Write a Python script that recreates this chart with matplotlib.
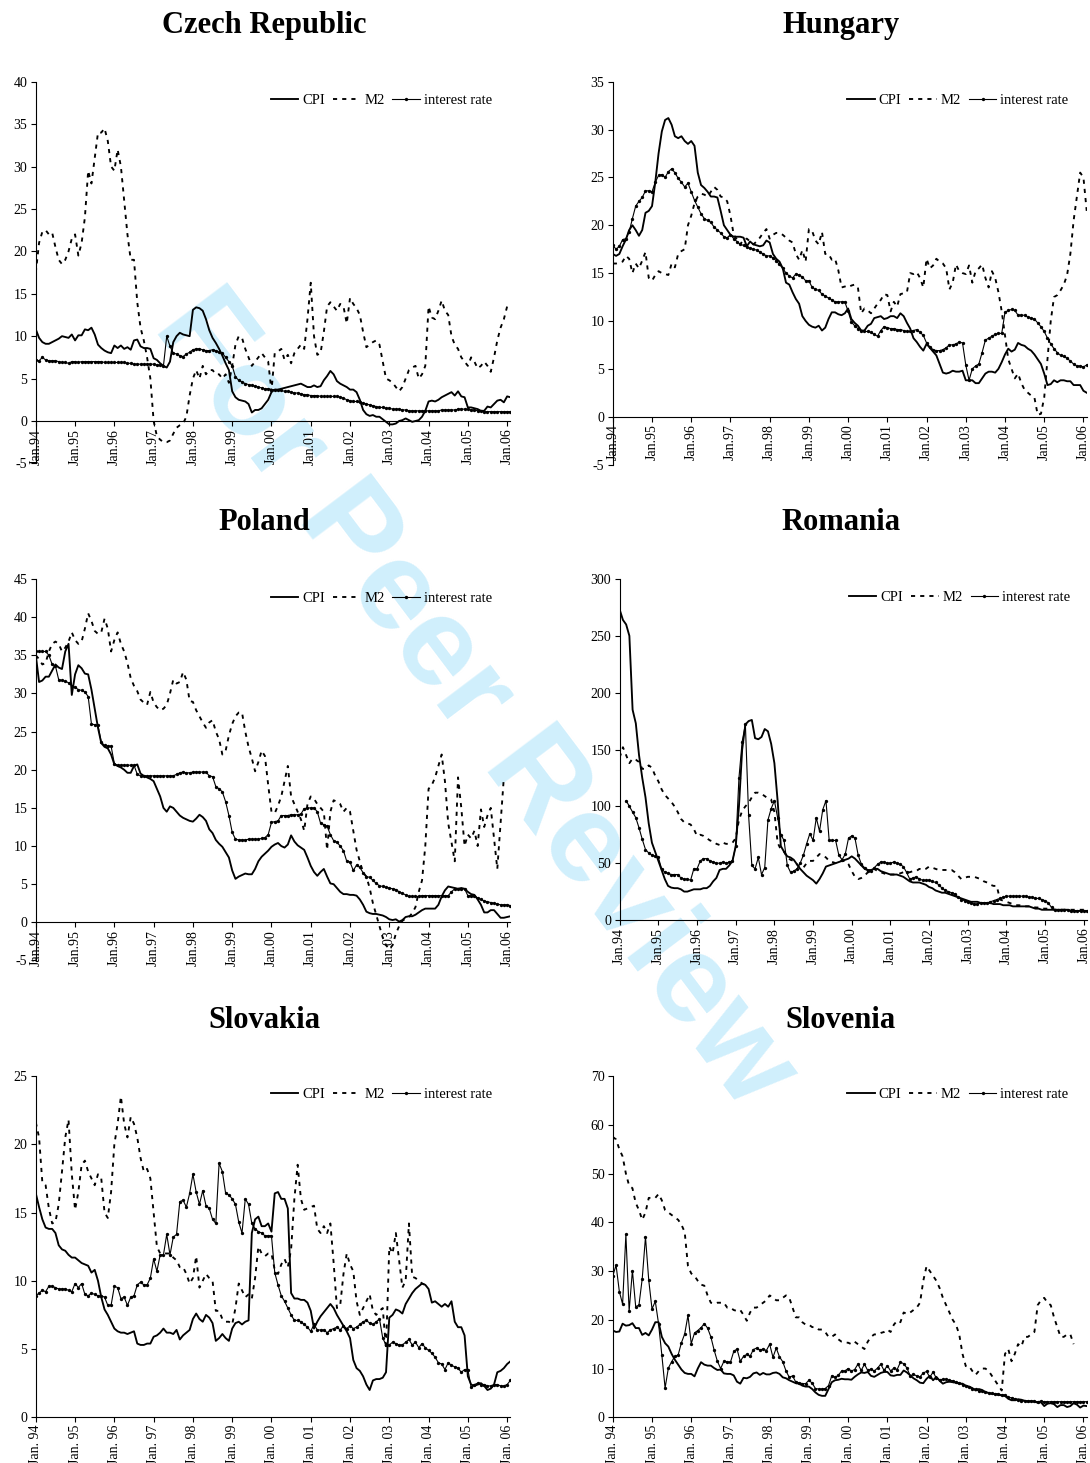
import numpy as np
import matplotlib
matplotlib.use("Agg")
import matplotlib.pyplot as plt
from matplotlib.lines import Line2D

plt.rcParams['font.family'] = ['Liberation Serif', 'DejaVu Serif']
plt.rcParams['axes.unicode_minus'] = False

nan = np.nan

# ---------------- Czech Republic ----------------
cz_cpi = [10.8, 9.8, 9.3, 9.1, 9.1, 9.3, 9.5, 9.7, 10.0, 9.9, 9.8, 10.2,
          9.5, 10.1, 10.1, 10.8, 10.7, 11.0, 10.2, 9.0, 8.6, 8.3, 8.1, 8.0,
          8.9, 8.6, 8.9, 8.5, 8.7, 8.4, 9.5, 9.6, 8.8, 8.6, 8.6, 8.5,
          7.4, 7.2, 6.8, 6.5, 6.3, 7.0, 9.3, 10.0, 10.4, 10.2, 10.1, 10.0,
          13.1, 13.4, 13.3, 13.0, 12.0, 10.7, 9.8, 9.2, 8.5, 7.7, 6.8, 6.0,
          3.5, 2.8, 2.5, 2.4, 2.3, 2.0, 1.0, 1.3, 1.3, 1.5, 2.0, 2.5,
          3.4, 3.7, 3.7, 3.8, 3.9, 4.0, 4.1, 4.2, 4.3, 4.4, 4.2, 4.0,
          4.0, 4.2, 4.0, 4.1, 4.8, 5.3, 5.9, 5.5, 4.7, 4.4, 4.2, 4.0,
          3.7, 3.7, 3.4, 2.5, 1.3, 0.8, 0.6, 0.7, 0.5, 0.5, 0.2, -0.1,
          -0.4, -0.4, -0.3, 0.0, 0.1, 0.3, 0.1, -0.1, 0.0, 0.1, 0.5, 1.2,
          2.3, 2.4, 2.3, 2.5, 2.8, 3.0, 3.2, 3.4, 3.0, 3.5, 2.9, 2.8,
          1.6, 1.6, 1.5, 1.4, 1.2, 1.2, 1.7, 1.6, 2.0, 2.4, 2.5, 2.2,
          2.9, 2.8]
cz_m2 = [17.5, 21.0, 22.3, 22.5, 22.0, 22.2, 20.5, 19.0, 18.5, 19.0, 20.0, 21.5,
         22.0, 19.5, 21.0, 24.0, 29.5, 28.0, 31.0, 34.0, 34.0, 34.5, 33.0, 30.0,
         29.5, 32.0, 30.0, 26.0, 22.0, 19.0, 19.0, 14.0, 11.0, 9.5, 7.5, 5.0,
         0.0, -1.8, -2.2, -2.5, -2.5, -2.3, -1.5, -0.8, -0.5, -0.3, 0.5, 3.0,
         5.0, 6.0, 5.0, 6.5, 5.5, 6.0, 6.0, 5.5, 5.5, 5.0, 5.5, 4.5,
         6.5, 9.0, 10.0, 9.8, 8.5, 7.5, 6.5, 7.0, 7.5, 8.0, 7.5, 7.0,
         3.5, 8.0, 8.2, 8.5, 7.2, 7.8, 6.8, 8.0, 8.5, 9.0, 8.5, 12.0,
         16.3, 10.0, 7.8, 8.0, 10.5, 13.5, 14.0, 13.5, 13.0, 13.8, 13.5, 11.5,
         14.5, 13.8, 13.3, 12.5, 10.5, 8.7, 9.0, 9.3, 9.5, 9.0, 7.0, 5.0,
         4.8, 4.5, 4.0, 3.5, 4.0, 5.0, 6.0, 6.3, 6.5, 5.0, 5.5, 6.5,
         13.5, 12.2, 12.0, 13.0, 14.2, 13.0, 12.5, 10.0, 9.0, 8.5, 7.5, 7.0,
         6.5, 7.5, 7.0, 6.2, 6.5, 7.0, 6.5, 5.8, 7.5, 9.5, 11.0, 12.0,
         13.5]
cz_ir = [7.2, 7.1, 7.5, 7.2, 7.1, 7.1, 7.1, 7.0, 6.9, 6.9, 6.8, 7.0,
         7.0, 6.9, 7.0, 7.0, 7.0, 7.0, 7.0, 7.0, 7.0, 6.9, 6.9, 6.9,
         6.9, 6.9, 6.9, 6.9, 6.8, 6.8, 6.7, 6.7, 6.7, 6.7, 6.7, 6.7,
         6.7, 6.6, 6.6, 6.5, 10.0, 8.8, 8.0, 7.9, 7.7, 7.6, 7.9, 8.1,
         8.4, 8.5, 8.5, 8.4, 8.3, 8.3, 8.4, 8.3, 8.1, 8.0, 7.5, 7.0,
         6.5, 5.2, 4.8, 4.6, 4.4, 4.3, 4.2, 4.1, 4.0, 3.9, 3.8, 3.8,
         3.7, 3.7, 3.6, 3.6, 3.5, 3.5, 3.4, 3.3, 3.3, 3.2, 3.1, 3.1,
         3.0, 3.0, 3.0, 2.9, 2.9, 2.9, 2.9, 2.9, 2.9, 2.8, 2.7, 2.5,
         2.4, 2.3, 2.3, 2.2, 2.1, 2.0, 1.9, 1.8, 1.7, 1.6, 1.6, 1.5,
         1.5, 1.4, 1.4, 1.4, 1.3, 1.3, 1.2, 1.2, 1.2, 1.2, 1.2, 1.2,
         1.2, 1.2, 1.2, 1.2, 1.3, 1.3, 1.3, 1.3, 1.3, 1.4, 1.4, 1.4,
         1.4, 1.3, 1.3, 1.2, 1.2, 1.1, 1.1, 1.1, 1.1, 1.1, 1.1, 1.1,
         1.1, 1.1]

# ---------------- Hungary ----------------
hu_cpi = [17.0, 16.8, 17.0, 17.8, 18.5, 19.5, 20.0, 19.5, 18.9, 19.5, 21.3, 21.5,
          22.0, 24.5, 27.5, 29.8, 31.0, 31.2, 30.5, 29.3, 29.1, 29.3, 28.8, 28.5,
          28.8, 28.3, 25.5, 24.2, 23.9, 23.5, 23.0, 23.0, 22.9, 21.5, 20.0, 19.5,
          19.0, 18.8, 18.8, 18.8, 18.7, 17.8, 18.3, 18.0, 17.9, 17.8, 17.9, 18.4,
          18.2, 17.0, 16.5, 16.2, 15.5, 14.0, 13.8, 13.0, 12.3, 11.8, 10.5, 10.0,
          9.6, 9.4, 9.3, 9.5, 9.0, 9.3, 10.2, 10.9, 10.9, 10.7, 10.6, 10.8,
          11.3, 10.2, 9.8, 9.5, 9.0, 9.0, 9.5, 9.7, 10.3, 10.4, 10.5, 10.2,
          10.3, 10.5, 10.5, 10.3, 10.8, 10.5, 9.8, 9.2, 8.2, 7.8, 7.3, 6.9,
          7.6, 7.2, 6.8, 6.4, 5.5, 4.6, 4.5, 4.6, 4.8, 4.7, 4.7, 4.8,
          3.8, 3.8, 3.8, 3.5, 3.5, 4.0, 4.5, 4.7, 4.7, 4.6, 5.0, 5.7,
          6.5, 7.1, 6.8, 7.0, 7.7, 7.5, 7.4, 7.1, 6.9, 6.5, 6.0, 5.5,
          4.5, 3.3, 3.4, 3.8, 3.6, 3.8, 3.8, 3.7, 3.7, 3.3, 3.3, 3.3,
          2.7, 2.5]
hu_m2 = [16.0, 16.0, 16.1, 16.2, 16.8, 16.5, 15.0, 16.0, 15.5, 16.3, 17.2, 14.5,
         14.2, 14.8, 15.2, 15.0, 14.9, 14.8, 16.0, 15.6, 17.0, 17.3, 17.5, 20.0,
         21.0, 22.3, 23.0, 23.3, 23.2, 23.0, 23.5, 24.0, 23.7, 23.0, 22.9, 22.5,
         21.0, 19.0, 18.5, 18.0, 18.5, 18.6, 18.3, 18.0, 18.3, 18.7, 19.2, 19.6,
         18.6, 19.0, 19.2, 19.2, 19.0, 18.7, 18.4, 18.2, 17.0, 16.4, 17.4, 16.2,
         19.6, 19.4, 18.4, 18.0, 19.3, 17.0, 17.0, 16.4, 16.5, 15.3, 13.5, 13.6,
         13.5, 13.7, 13.8, 13.5, 10.8, 11.3, 11.1, 10.8, 11.3, 11.8, 12.2, 12.8,
         12.7, 11.0, 12.0, 11.5, 12.8, 12.9, 13.0, 15.0, 14.9, 15.1, 14.5, 13.5,
         16.5, 15.5, 15.8, 16.5, 16.2, 16.0, 15.5, 13.3, 14.0, 15.9, 15.2, 15.0,
         14.9, 15.8, 14.0, 15.2, 15.5, 15.9, 14.5, 13.5, 15.2, 14.5, 13.0, 11.0,
         8.5, 6.0, 5.0, 4.0, 4.5, 3.5, 2.8, 2.5, 2.2, 2.0, 0.2, 0.3,
         2.0, 6.0, 10.0, 12.5, 12.7, 13.2, 13.8, 14.8, 17.0, 20.5, 23.0, 25.5,
         25.0, 21.5]
hu_ir = [17.9, 17.5, 17.8, 18.5, 18.6, 19.3, 20.7, 22.0, 22.5, 22.9, 23.6, 23.6,
         23.5, 24.5, 25.2, 25.3, 25.0, 25.6, 25.9, 25.5, 24.9, 24.5, 24.0, 24.4,
         23.5, 22.6, 21.9, 21.2, 20.7, 20.5, 20.3, 19.8, 19.5, 19.2, 18.8, 18.7,
         19.0, 18.6, 18.3, 18.0, 17.9, 17.7, 17.6, 17.5, 17.4, 17.2, 17.0, 16.8,
         16.8, 16.6, 16.3, 15.9, 15.5, 15.0, 14.7, 14.5, 14.9, 14.8, 14.6, 14.2,
         14.2, 13.5, 13.3, 13.2, 12.8, 12.6, 12.4, 12.2, 12.0, 12.0, 12.0, 12.0,
         11.0, 9.9, 9.5, 9.2, 9.0, 8.9, 8.9, 8.8, 8.6, 8.4, 9.0, 9.4,
         9.3, 9.2, 9.2, 9.1, 9.1, 9.0, 8.9, 8.9, 9.0, 9.1, 8.8, 8.5,
         7.7, 7.3, 7.0, 6.9, 6.9, 7.0, 7.2, 7.5, 7.5, 7.6, 7.8, 7.7,
         5.4, 3.8, 5.0, 5.3, 5.5, 6.7, 8.0, 8.2, 8.4, 8.6, 8.7, 8.7,
         10.9, 11.1, 11.2, 11.1, 10.6, 10.6, 10.6, 10.4, 10.3, 10.2, 9.8, 9.4,
         8.9, 8.2, 7.6, 7.1, 6.7, 6.4, 6.3, 6.1, 5.8, 5.5, 5.3, 5.3,
         5.2, 5.4]

# ---------------- Poland ----------------
pl_cpi = [35.0, 31.5, 31.7, 32.2, 32.2, 33.0, 33.8, 33.4, 33.2, 35.5, 36.5, 29.8,
          32.5, 33.7, 33.3, 32.6, 32.5, 30.5, 28.0, 25.5, 23.5, 23.0, 22.8, 22.0,
          20.7, 20.5, 20.3, 20.0, 19.6, 19.6, 20.5, 20.7, 19.5, 19.2, 19.0, 18.8,
          18.5, 17.5, 16.5, 15.0, 14.5, 15.2, 15.0, 14.5, 14.0, 13.7, 13.5, 13.3,
          13.2, 13.6, 14.1, 13.8, 13.3, 12.2, 11.7, 10.8, 10.3, 9.9, 9.2, 8.5,
          6.8, 5.7, 6.0, 6.2, 6.4, 6.3, 6.3, 7.0, 8.0, 8.6, 9.0, 9.4,
          9.9, 10.2, 10.4, 10.0, 9.8, 10.2, 11.4, 10.6, 10.1, 9.8, 9.5, 8.5,
          7.4, 6.6, 6.1, 6.6, 7.0, 6.0, 5.1, 5.0, 4.5, 4.0, 3.7, 3.7,
          3.6, 3.6, 3.5, 3.0, 2.3, 1.4, 1.2, 1.1, 1.1, 1.0, 0.9, 0.7,
          0.4, 0.3, 0.4, 0.1, 0.3, 0.7, 0.8, 0.8, 1.0, 1.3, 1.6, 1.8,
          1.8, 1.8, 1.8, 2.3, 3.4, 4.2, 4.7, 4.6, 4.5, 4.4, 4.5, 4.4,
          4.0, 3.7, 3.6, 3.0, 2.3, 1.3, 1.3, 1.6, 1.6, 1.1, 0.6, 0.6,
          0.7, 0.8]
pl_m2 = [35.0, 34.5, 33.8, 34.0, 35.5, 36.5, 36.8, 36.5, 35.5, 36.0, 36.8, 38.0,
         37.0, 36.5, 36.8, 38.5, 40.5, 39.5, 38.2, 37.8, 38.0, 39.8, 38.5, 35.5,
         37.0, 38.0, 36.5, 35.5, 34.0, 32.0, 31.0, 30.3, 29.2, 28.8, 28.5, 30.2,
         28.8, 28.2, 27.8, 28.0, 28.5, 30.0, 31.8, 31.3, 31.5, 32.8, 31.8, 29.0,
         28.9, 27.8, 27.0, 26.2, 25.5, 26.2, 26.5, 25.0, 24.0, 22.0, 22.5, 24.5,
         26.0, 27.0, 27.5, 27.5, 25.0, 23.0, 21.5, 19.8, 21.0, 22.5, 21.8, 18.0,
         14.5, 14.3, 15.3, 16.5, 18.5, 20.5, 16.5, 15.5, 14.5, 13.5, 12.0, 15.5,
         16.5, 16.2, 15.5, 15.0, 14.5, 9.5, 14.5, 16.0, 15.8, 15.5, 14.5, 15.0,
         14.5, 12.0, 9.5, 8.0, 6.5, 6.0, 4.5, 2.5, 1.0, -0.5, -2.0, -3.0,
         -3.5, -3.0, -1.5, -0.5, 0.2, 0.5, 0.7, 1.2, 2.0, 4.0, 5.5, 10.0,
         17.5, 18.0, 19.0, 20.5, 22.0, 18.5, 13.0, 10.5, 8.0, 19.0, 15.0, 10.0,
         11.5, 11.0, 12.0, 10.0, 14.8, 12.5, 14.0, 15.0, 11.0, 7.0, 13.0, 19.0]
pl_ir = [35.5, 35.5, 35.5, 35.5, 35.0, 33.8, 33.6, 31.8, 31.7, 31.6, 31.4, 31.0,
         30.8, 30.5, 30.4, 30.2, 29.6, 26.0, 25.9, 25.8, 23.6, 23.2, 23.1, 23.1,
         20.8, 20.6, 20.6, 20.6, 20.6, 20.6, 20.6, 19.4, 19.2, 19.2, 19.2, 19.2,
         19.2, 19.2, 19.2, 19.2, 19.2, 19.2, 19.2, 19.4, 19.6, 19.7, 19.6, 19.6,
         19.7, 19.7, 19.7, 19.7, 19.7, 19.2, 19.1, 17.8, 17.5, 17.1, 15.8, 14.0,
         11.8, 10.9, 10.8, 10.8, 10.8, 10.9, 10.9, 10.9, 10.9, 11.0, 11.1, 11.5,
         13.1, 13.2, 13.3, 14.0, 14.0, 14.0, 14.1, 14.1, 14.1, 14.2, 14.9, 15.0,
         15.0, 15.0, 14.5, 13.0, 12.8, 12.6, 11.5, 10.7, 10.5, 10.0, 9.4, 8.0,
         7.9, 6.8, 7.5, 7.2, 6.5, 6.0, 5.9, 5.5, 5.1, 4.8, 4.7, 4.6,
         4.5, 4.4, 4.3, 4.0, 3.8, 3.6, 3.4, 3.4, 3.4, 3.4, 3.5, 3.5,
         3.5, 3.5, 3.5, 3.5, 3.5, 3.5, 3.5, 4.0, 4.4, 4.4, 4.4, 4.4,
         3.5, 3.5, 3.5, 3.2, 3.0, 2.8, 2.7, 2.6, 2.5, 2.4, 2.3, 2.3,
         2.3, 2.2]

# ---------------- Romania ----------------
ro_cpi = [273, 264, 260, 250, 185, 173, 145, 125, 108, 85, 68, 60,
          52, 44, 36, 30, 28.5, 28, 28, 27, 25, 25, 26, 27,
          27, 27, 28, 28, 30, 34, 37, 44, 45, 45, 48, 52,
          65, 100, 150, 172, 175, 176, 160, 159, 161, 168, 166, 155,
          138, 105, 65, 60, 56, 55, 53, 49, 45, 42, 39, 37,
          35, 32, 36, 41, 47, 48, 49, 50, 51, 52, 53, 54,
          56, 54, 51, 48, 45, 44, 44, 45, 45, 43, 42, 41,
          40, 40, 40, 39, 38, 36, 34, 33, 33, 33, 32, 31,
          29, 28, 26, 25, 24, 24, 23, 22, 21, 20, 19, 18,
          17, 16, 16, 16, 15, 15, 15, 15, 14, 14, 14, 13,
          13, 13, 12, 12, 12, 12, 12, 12, 11, 10, 10, 9,
          9, 9, 9, 9, 9, 9, 9, 9, 8, 8, 8, 8,
          8, 8]
ro_m2 = [143, 152, 145, 138, 142, 141, 139, 133, 133, 136, 134, 127,
         122, 115, 110, 107, 104, 100, 95, 89, 86, 85, 84, 80,
         74, 75, 74, 72, 70, 69, 67, 66, 68, 67, 67, 68,
         72, 88, 96, 100, 103, 108, 112, 112, 111, 109, 107, 106,
         95, 68, 62, 60, 55, 53, 52, 49, 46, 46, 50, 52,
         52, 55, 58, 57, 55, 52, 51, 50, 52, 52, 52, 49,
         43, 38, 36, 37, 39, 42, 44, 45, 43, 42, 41, 40,
         40, 40, 40, 41, 42, 42, 42, 43, 43, 45, 44, 45,
         47, 46, 45, 44, 44, 44, 44, 44, 42, 39, 36, 37,
         38, 38, 38, 37, 36, 34, 33, 31, 30, 30, 18, 17,
         16, 15, 14, 13, 13, 12, 12, 12, 12, 11, 11, 10,
         10, 10, 10, 9, 9, 9, 9, 9, 9, 9, 9, 9,
         9, 9]
ro_ir = [nan, nan, 105, 100, 95, 90, 81, 71, 62, 59, 57, 56,
         55, 45, 42, 41, 40, 40, 40, 37, 36, 36, 35, 45,
         45, 52, 54, 54, 52, 51, 50, 50, 51, 50, 51, 52,
         65, 125, 157, 172, 92, 48, 45, 55, 40, 46, 88, 98,
         105, 90, 75, 70, 48, 42, 43, 45, 50, 57, 67, 76,
         70, 90, 78, 97, 105, 70, 70, 70, 57, 53, 58, 72,
         74, 72, 57, 49, 46, 43, 43, 46, 49, 51, 51, 50,
         50, 51, 50, 49, 47, 42, 36, 37, 38, 36, 35, 35,
         35, 34, 33, 31, 28, 26, 25, 24, 23, 20, 18, 17,
         16, 15, 14, 14, 15, 15, 15, 16, 17, 18, 19, 20,
         21, 21, 21, 21, 21, 21, 21, 20, 20, 19, 19, 18,
         17, 15, 11, 9, 9, 9, 9, 9, 8, 8, 8, 8,
         8, 8]

# ---------------- Slovakia ----------------
sk_cpi = [16.4, 15.4, 14.5, 13.9, 13.8, 13.8, 13.5, 12.6, 12.3, 12.2, 11.9, 11.7,
          11.7, 11.5, 11.3, 11.2, 11.1, 10.6, 10.8, 10.0, 8.8, 7.9, 7.5, 7.0,
          6.5, 6.3, 6.2, 6.2, 6.1, 6.2, 6.3, 5.4, 5.3, 5.3, 5.4, 5.4,
          5.9, 6.0, 6.2, 6.5, 6.2, 6.2, 6.1, 6.4, 5.7, 6.0, 6.2, 6.4,
          7.2, 7.6, 7.2, 7.0, 7.5, 7.3, 6.9, 5.6, 5.8, 6.1, 5.8, 5.6,
          6.5, 6.9, 7.0, 6.8, 7.0, 7.1, 13.5, 14.5, 14.7, 14.0, 14.0, 14.2,
          13.6, 16.4, 16.5, 16.0, 16.0, 15.3, 9.1, 8.7, 8.7, 8.6, 8.6, 8.4,
          7.8, 6.5, 7.0, 7.4, 7.7, 8.0, 8.3, 8.0, 7.5, 7.1, 6.7, 6.3,
          5.8, 4.2, 3.6, 3.4, 3.0, 2.4, 2.0, 2.7, 2.8, 2.8, 2.9, 3.3,
          7.3, 7.5, 7.9, 7.8, 7.6, 8.3, 8.7, 9.1, 9.4, 9.6, 9.8, 9.7,
          9.4, 8.4, 8.5, 8.3, 8.1, 8.3, 8.1, 8.5, 7.0, 6.6, 6.6, 6.0,
          3.0, 2.4, 2.3, 2.4, 2.5, 2.3, 2.0, 2.1, 2.4, 3.3, 3.4, 3.6,
          3.9, 4.1]
sk_m2 = [21.6, 20.5, 17.2, 17.0, 15.3, 14.2, 14.3, 15.6, 18.0, 20.5, 21.8, 17.8,
         15.2, 16.5, 18.5, 18.8, 18.0, 17.5, 17.0, 17.8, 17.5, 15.0, 14.6, 16.5,
         20.0, 21.5, 23.5, 21.5, 20.5, 22.0, 21.5, 20.5, 19.0, 18.0, 18.2, 17.5,
         15.0, 12.5, 12.0, 12.0, 12.0, 12.0, 11.7, 11.5, 11.0, 11.0, 10.5, 9.8,
         10.2, 11.8, 9.5, 10.0, 10.5, 10.2, 10.0, 7.8, 7.8, 7.2, 7.0, 7.0,
         6.8, 8.0, 9.8, 9.3, 8.8, 9.0, 8.7, 10.2, 12.5, 12.0, 11.8, 12.0,
         12.0, 10.8, 10.5, 11.2, 11.6, 11.0, 12.3, 16.0, 18.5, 16.0, 15.2, 15.3,
         15.4, 15.5, 13.8, 13.5, 14.0, 13.5, 14.2, 11.3, 8.0, 8.2, 10.5, 12.0,
         11.2, 10.7, 8.5, 7.5, 8.0, 8.5, 9.0, 7.8, 7.5, 7.8, 8.0, 5.0,
         12.5, 12.0, 13.5, 11.5, 9.5, 10.0, 14.2, 10.3, 10.2, 10.0, 9.8, 9.7]
sk_ir = [8.9, 9.1, 9.3, 9.2, 9.6, 9.6, 9.5, 9.4, 9.4, 9.4, 9.3, 9.2,
         9.8, 9.5, 9.8, 9.0, 8.9, 9.1, 9.0, 8.9, 8.9, 8.8, 8.2, 8.2,
         9.6, 9.5, 8.7, 8.8, 8.2, 8.8, 8.9, 9.7, 9.9, 9.7, 9.7, 10.2,
         11.6, 10.7, 11.9, 11.9, 13.4, 11.9, 13.2, 13.4, 15.8, 15.9, 15.4, 16.4,
         17.8, 16.5, 15.6, 16.6, 15.5, 15.3, 14.5, 14.2, 18.6, 18.0, 16.4, 16.3,
         16.0, 15.6, 14.3, 13.5, 16.0, 15.6, 14.2, 13.8, 13.6, 13.5, 13.3, 13.3,
         13.3, 10.6, 9.7, 8.9, 8.5, 8.0, 7.5, 7.1, 7.1, 7.0, 6.8, 6.6,
         6.3, 6.8, 6.4, 6.4, 6.4, 6.2, 6.4, 6.5, 6.6, 6.4, 6.7, 6.5,
         6.7, 6.5, 6.6, 6.8, 7.0, 7.1, 6.9, 6.8, 7.0, 7.2, 5.8, 5.3,
         5.3, 5.5, 5.4, 5.3, 5.3, 5.5, 5.7, 5.3, 5.5, 5.1, 5.4, 5.1,
         4.9, 4.7, 4.4, 4.0, 3.9, 3.5, 4.0, 3.8, 3.7, 3.6, 3.3, 3.5,
         3.5, 2.2, 2.4, 2.5, 2.4, 2.4, 2.3, 2.3, 2.4, 2.4, 2.3, 2.3,
         2.4, 2.7]

# ---------------- Slovenia ----------------
sl_cpi = [17.8, 17.5, 17.6, 19.2, 18.8, 18.9, 19.3, 18.3, 18.3, 16.9, 17.3, 16.8,
          18.0, 19.5, 19.5, 16.5, 15.2, 14.5, 13.0, 11.8, 10.8, 9.8, 9.1, 8.9,
          8.9, 8.4, 10.0, 11.3, 10.8, 10.6, 10.6, 10.1, 9.7, 9.8, 9.0, 8.9,
          8.9, 8.6, 7.3, 6.9, 8.1, 8.0, 8.3, 9.0, 9.2, 8.7, 9.1, 8.8,
          8.8, 9.1, 9.2, 8.9, 8.2, 8.0, 7.6, 7.3, 7.0, 6.9, 6.5, 6.3,
          6.3, 5.8, 5.1, 4.6, 4.4, 4.4, 5.8, 7.2, 7.6, 7.7, 7.9, 7.8,
          7.8, 7.7, 8.3, 8.8, 9.2, 9.1, 9.3, 8.5, 8.3, 8.7, 9.1, 9.3,
          9.3, 8.6, 8.5, 8.7, 8.7, 9.6, 9.2, 8.6, 8.0, 7.6, 7.1, 7.0,
          7.9, 8.5, 7.6, 8.3, 7.5, 6.9, 7.2, 7.3, 7.2, 7.1, 6.9, 6.9,
          6.5, 6.3, 6.0, 5.5, 5.8, 5.6, 5.2, 5.0, 4.8, 4.8, 4.6, 4.5,
          4.4, 3.8, 3.5, 3.5, 3.7, 3.6, 3.4, 3.2, 3.3, 3.2, 3.0, 3.1,
          2.3, 2.8, 2.9, 2.7, 2.1, 2.5, 2.5, 2.1, 2.3, 2.9, 2.6, 2.0,
          2.4, 2.3]
sl_m2 = [57.5, 57.0, 55.0, 53.5, 50.0, 47.5, 47.0, 44.0, 42.5, 40.5, 42.0, 45.0,
         45.0, 45.0, 45.8, 44.5, 42.5, 42.0, 41.5, 41.0, 40.5, 39.5, 38.0, 31.0,
         29.5, 29.0, 28.0, 27.2, 27.0, 25.0, 23.5, 23.3, 23.5, 23.5, 23.5, 22.5,
         22.5, 22.0, 21.8, 22.0, 21.0, 19.8, 21.5, 22.5, 22.5, 23.0, 23.5, 24.0,
         25.0, 24.5, 24.0, 24.0, 24.5, 25.0, 24.5, 22.5, 20.5, 20.5, 19.5, 19.0,
         19.0, 18.5, 18.5, 18.0, 18.0, 17.5, 16.5, 16.5, 17.0, 16.0, 15.5, 15.3,
         15.3, 15.0, 15.5, 15.0, 14.5, 14.0, 15.5, 16.5, 17.0, 17.0, 17.3, 17.5,
         18.0, 17.5, 19.0, 19.8, 19.5, 21.5, 21.2, 21.5, 22.0, 22.5, 23.5, 28.0,
         31.0, 30.0, 29.0, 28.0, 26.5, 24.5, 23.0, 21.5, 20.0, 19.0, 17.0, 13.0,
         10.5, 10.5, 9.5, 8.7, 9.5, 10.0, 10.0, 9.5, 8.5, 7.5, 6.5, 5.5,
         13.0, 14.0, 11.5, 13.0, 15.0, 14.5, 16.5, 16.5, 17.0, 17.5, 23.0, 24.0,
         24.5, 23.5, 23.0, 20.5, 18.5, 16.5, 16.5, 17.0, 17.0, 15.0]
sl_ir = [29.0, 31.2, 25.8, 23.2, 37.5, 21.8, 30.1, 22.7, 23.0, 28.4, 37.0, 28.1,
         22.2, 23.8, 19.2, 12.8, 6.0, 10.1, 11.4, 12.5, 12.8, 15.3, 17.1, 20.9,
         15.1, 17.3, 17.8, 18.4, 19.2, 18.3, 16.5, 13.8, 11.5, 10.0, 11.5, 11.4,
         11.3, 13.5, 14.0, 11.5, 12.5, 12.9, 12.5, 13.9, 14.2, 13.8, 14.0, 13.7,
         15.0, 12.3, 14.2, 12.4, 11.4, 9.5, 8.2, 8.5, 7.2, 7.1, 6.9, 6.9,
         7.6, 7.0, 5.9, 5.8, 5.8, 5.9, 6.5, 8.5, 8.2, 8.6, 9.5, 9.5,
         10.0, 9.5, 9.8, 10.9, 9.6, 10.9, 9.6, 9.9, 9.5, 10.1, 10.9, 9.6,
         10.6, 9.5, 10.1, 9.8, 11.3, 11.0, 10.1, 8.5, 8.8, 8.5, 8.3, 9.1,
         9.4, 8.2, 9.3, 8.0, 7.7, 7.8, 7.8, 7.6, 7.5, 7.2, 7.1, 6.7,
         6.4, 6.2, 5.9, 5.8, 5.4, 5.3, 5.1, 5.0, 4.9, 4.8, 4.8, 4.6,
         4.6, 4.1, 4.0, 3.8, 3.6, 3.4, 3.3, 3.4, 3.3, 3.3, 3.2, 3.3,
         3.2, 3.2, 3.2, 3.2, 3.2, 3.2, 3.2, 3.2, 3.2, 3.2, 3.2, 3.2,
         3.2, 3.2]

years = ['94', '95', '96', '97', '98', '99', '00', '01', '02', '03', '04', '05', '06']
series_labels = ['CPI', 'M2', 'interest rate']

W, H = 1090, 1463
fig = plt.figure(figsize=(W / 100, H / 100), dpi=100)

panels = [
    dict(title='Czech Republic', cpi=cz_cpi, m2=cz_m2, ir=cz_ir, ylim=(-5, 40), step=5,
         box=(35.8, 81.7, 510.4, 463.4), sep='', tx=264.5, ty=26, leg=(0.961, 0.95)),
    dict(title='Hungary', cpi=hu_cpi, m2=hu_m2, ir=hu_ir, ylim=(-5, 35), step=5,
         box=(612.8, 81.7, 1086.7, 464.5), sep='', tx=841, ty=26, leg=(0.961, 0.95)),
    dict(title='Poland', cpi=pl_cpi, m2=pl_m2, ir=pl_ir, ylim=(-5, 45), step=5,
         box=(35.8, 579, 510.4, 960.5), sep='', tx=264.5, ty=523, leg=(0.961, 0.948)),
    dict(title='Romania', cpi=ro_cpi, m2=ro_m2, ir=ro_ir, ylim=(0, 300), step=50,
         box=(619.7, 579, 1087, 920), sep='', tx=841, ty=523, leg=(0.9636, 0.947)),
    dict(title='Slovakia', cpi=sk_cpi, m2=sk_m2, ir=sk_ir, ylim=(0, 25), step=5,
         box=(35.8, 1076, 510.4, 1417.3), sep=' ', tx=264.5, ty=1020, leg=(0.961, 0.947)),
    dict(title='Slovenia', cpi=sl_cpi, m2=sl_m2, ir=sl_ir, ylim=(0, 70), step=10,
         box=(612.8, 1076, 1086.7, 1417.3), sep=' ', tx=840.5, ty=1020, leg=(0.961, 0.947)),
]

# watermark (behind the charts)
fig.text(474 / W, 1 - 700 / H, 'For Peer Review', rotation=-53, fontsize=91,
         fontweight='bold', family=['Liberation Sans', 'DejaVu Sans'],
         color='#d0effc', ha='center', va='center', zorder=-1,
         rotation_mode='anchor')

cpi_kw = dict(color='black', lw=1.35, solid_joinstyle='round')
m2_kw = dict(color='black', lw=1.35, linestyle=(0, (2.2, 2.7)))
ir_kw = dict(color='black', lw=0.8, marker='o', markersize=2.4, markeredgewidth=0)

for p in panels:
    l, t, r, b = p['box']
    ax = fig.add_axes([l / W, 1 - b / H, (r - l) / W, (b - t) / H])
    ax.set_facecolor('none')
    ax.plot(np.arange(len(p['cpi'])), p['cpi'], **cpi_kw)
    ax.plot(np.arange(len(p['m2'])), p['m2'], **m2_kw)
    ax.plot(np.arange(len(p['ir'])), p['ir'], **ir_kw)
    ax.set_xlim(0, 145)
    ax.set_ylim(*p['ylim'])
    ax.set_yticks(np.arange(p['ylim'][0], p['ylim'][1] + 0.1, p['step']))
    ax.set_xticks(np.arange(0, 145, 12))
    ax.set_xticklabels(['Jan.' + p['sep'] + y for y in years], fontsize=10)
    for lab in ax.get_yticklabels():
        lab.set_fontsize(10)
    ax.spines['top'].set_visible(False)
    ax.spines['right'].set_visible(False)
    ax.spines['bottom'].set_position(('data', 0))
    for s in ('left', 'bottom'):
        ax.spines[s].set_linewidth(0.8)
    ax.tick_params(direction='out', length=3.5, width=0.8, pad=2.5, colors='black')
    ax.tick_params(axis='x', pad=2, labelrotation=90)

    handles = [Line2D([], [], **cpi_kw), Line2D([], [], **m2_kw), Line2D([], [], **ir_kw)]
    ax.legend(handles, series_labels, loc='center right', bbox_to_anchor=p['leg'],
              ncol=3, frameon=False, fontsize=10.5, handlelength=1.9,
              handletextpad=0.25, columnspacing=0.55, borderpad=0, borderaxespad=0)

    fig.text(p['tx'] / W, 1 - p['ty'] / H, p['title'], fontsize=22, fontweight='bold',
             ha='center', va='center')

fig.savefig('out.png', dpi=100)
